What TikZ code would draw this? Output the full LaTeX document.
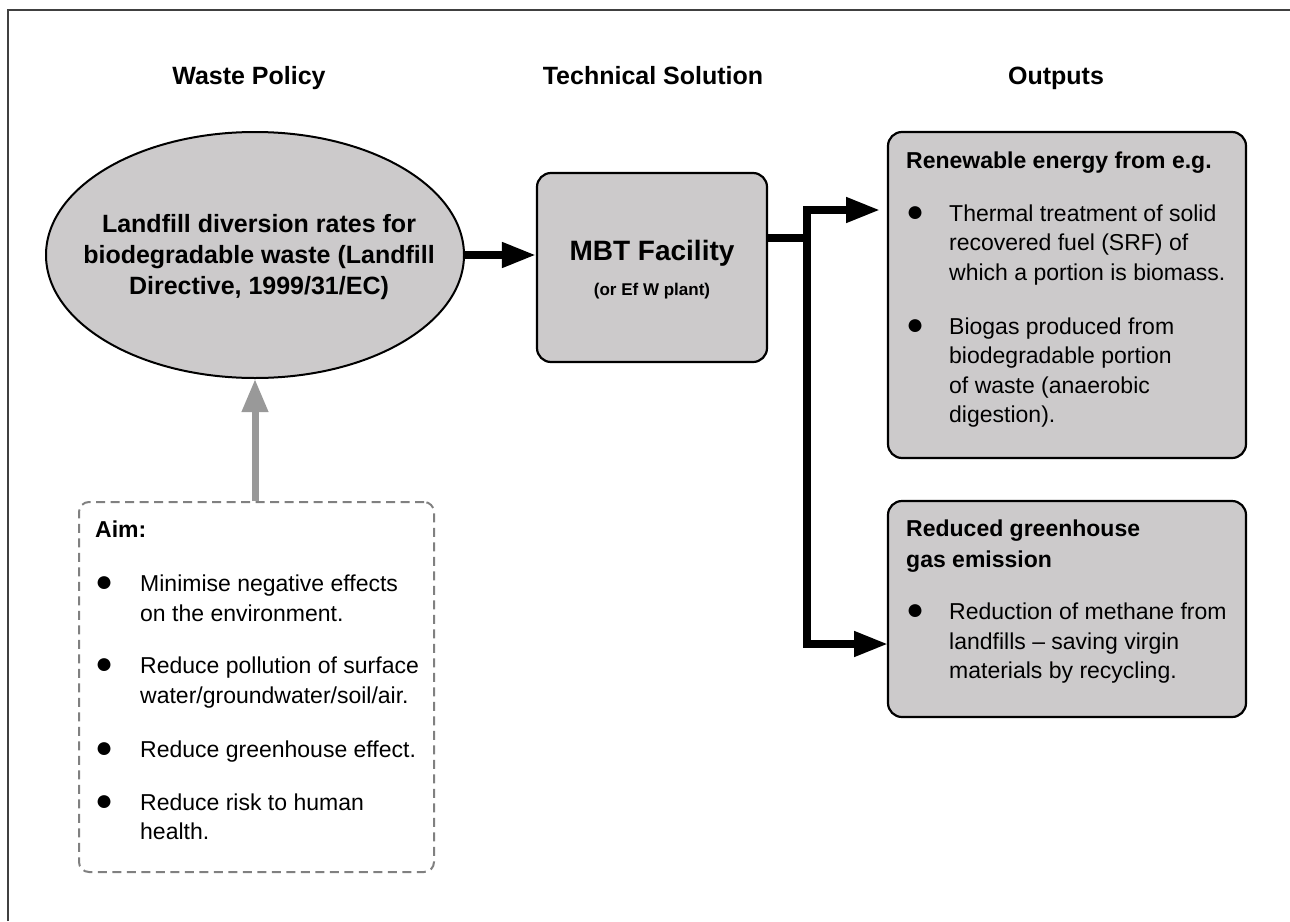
\documentclass[tikz,border=0pt]{standalone}
\usepackage{fontspec}
\usepackage{graphicx}
\setmainfont{Liberation Sans}
\usetikzlibrary{arrows.meta,shapes.geometric,calc}
\definecolor{boxgray}{RGB}{204,202,203}
\definecolor{arrgray}{RGB}{153,153,153}
\definecolor{dashgray}{RGB}{128,128,128}
\definecolor{framegray}{RGB}{64,64,64}
\newcommand{\bigbul}{\scalebox{1.3}{●}}
\begin{document}
\begin{tikzpicture}[x=1pt,y=-1pt,
  heading/.style={font=\bfseries\fontsize{25}{30}\selectfont, inner sep=0, anchor=base},
  shapebox/.style={draw=black, line width=2.2pt, fill=boxgray, rounded corners=14pt, inner sep=0},
  aimbox/.style={draw=dashgray, line width=2pt, dash pattern=on 9pt off 5.5pt, rounded corners=10pt, inner sep=0},
  body/.style={inner sep=0, anchor=base west, font=\fontsize{23}{29.5}\selectfont},
  conn/.style={line width=7.5pt},
  connarrow/.style={line width=7.5pt, -{Triangle[length=34pt,width=24pt]}},
  grayarrow/.style={line width=7pt, draw=arrgray, -{Triangle[length=33pt,width=25pt]}}
]
\useasboundingbox (0,0) rectangle (1290,921);
% frame
\draw[framegray, line width=1.6pt] (8,921) -- (8,10) -- (1290,10);

% headings
\node[heading] (h1) at (249,84) {Waste Policy};
\node[heading] (h2) at (653,84) {Technical Solution};
\node[heading] (h3) at (1056,84) {Outputs};

% ellipse
\node[ellipse, draw=black, line width=2pt, fill=boxgray, minimum width=418pt, minimum height=246pt, inner sep=0] (ell) at (255,255) {};
\node[inner sep=0, align=center, font=\bfseries\fontsize{25}{31}\selectfont] (elltxt) at (259,257) {Landfill diversion rates for\\biodegradable waste (Landfill\\Directive, 1999/31/EC)};

% MBT box
\node[shapebox, minimum width=230pt, minimum height=189pt] (mbt) at (652,267.5) {};
\node[font=\bfseries\fontsize{28}{32}\selectfont, inner sep=0, anchor=base] (mbtname) at (652,260) {MBT Facility};
\node[font=\bfseries\fontsize{17}{20}\selectfont, inner sep=0, anchor=base] (mbtsub) at (652,295) {(or Ef W plant)};

% output boxes
\node[shapebox, minimum width=358pt, minimum height=326pt] (ren) at (1067,295) {};
\node[body] (rentxt) at (906,168) {\begin{tabular}[t]{@{}p{43pt}@{}l@{}}
\multicolumn{2}{@{}l@{}}{\bfseries Renewable energy from e.g.}\\[23.5pt]
\bigbul & Thermal treatment of solid\\
& recovered fuel (SRF) of\\
& which a portion is biomass.\\[24.5pt]
\bigbul & Biogas produced from\\
& biodegradable portion\\
& of waste (anaerobic\\
& digestion).
\end{tabular}};

\node[shapebox, minimum width=358pt, minimum height=216pt] (red) at (1067,609) {};
\node[body] (redtxt) at (906,536) {\begin{tabular}[t]{@{}p{43pt}@{}l@{}}
\multicolumn{2}{@{}l@{}}{\bfseries Reduced greenhouse}\\[1.5pt]
\multicolumn{2}{@{}l@{}}{\bfseries gas emission}\\[23pt]
\bigbul & Reduction of methane from\\
& landfills – saving virgin\\
& materials by recycling.
\end{tabular}};

% aim box
\node[aimbox, minimum width=355pt, minimum height=370pt] (aim) at (256.5,687) {};
\node[body] (aimtxt) at (95,537) {\begin{tabular}[t]{@{}p{45pt}@{}l@{}}
\multicolumn{2}{@{}l@{}}{\bfseries Aim:}\\[25pt]
\bigbul & Minimise negative effects\\
& on the environment.\\[23pt]
\bigbul & Reduce pollution of surface\\
& water/groundwater/soil/air.\\[24.5pt]
\bigbul & Reduce greenhouse effect.\\[23.5pt]
\bigbul & Reduce risk to human\\
& health.
\end{tabular}};

% connectors
\draw[connarrow] (ell.east) -- (ell.east -| mbt.west);
\coordinate (split) at (807,238);
\coordinate (renin) at (888,210);
\coordinate (redin) at (888,644);
\draw[conn] (mbt.east |- split) -- (split);
\draw[connarrow, shorten >=8pt] (split) |- (renin);
\draw[connarrow] (split) |- (redin);
\draw[grayarrow] (ell.south |- aim.north) -- (ell.south);
\end{tikzpicture}
\end{document}
